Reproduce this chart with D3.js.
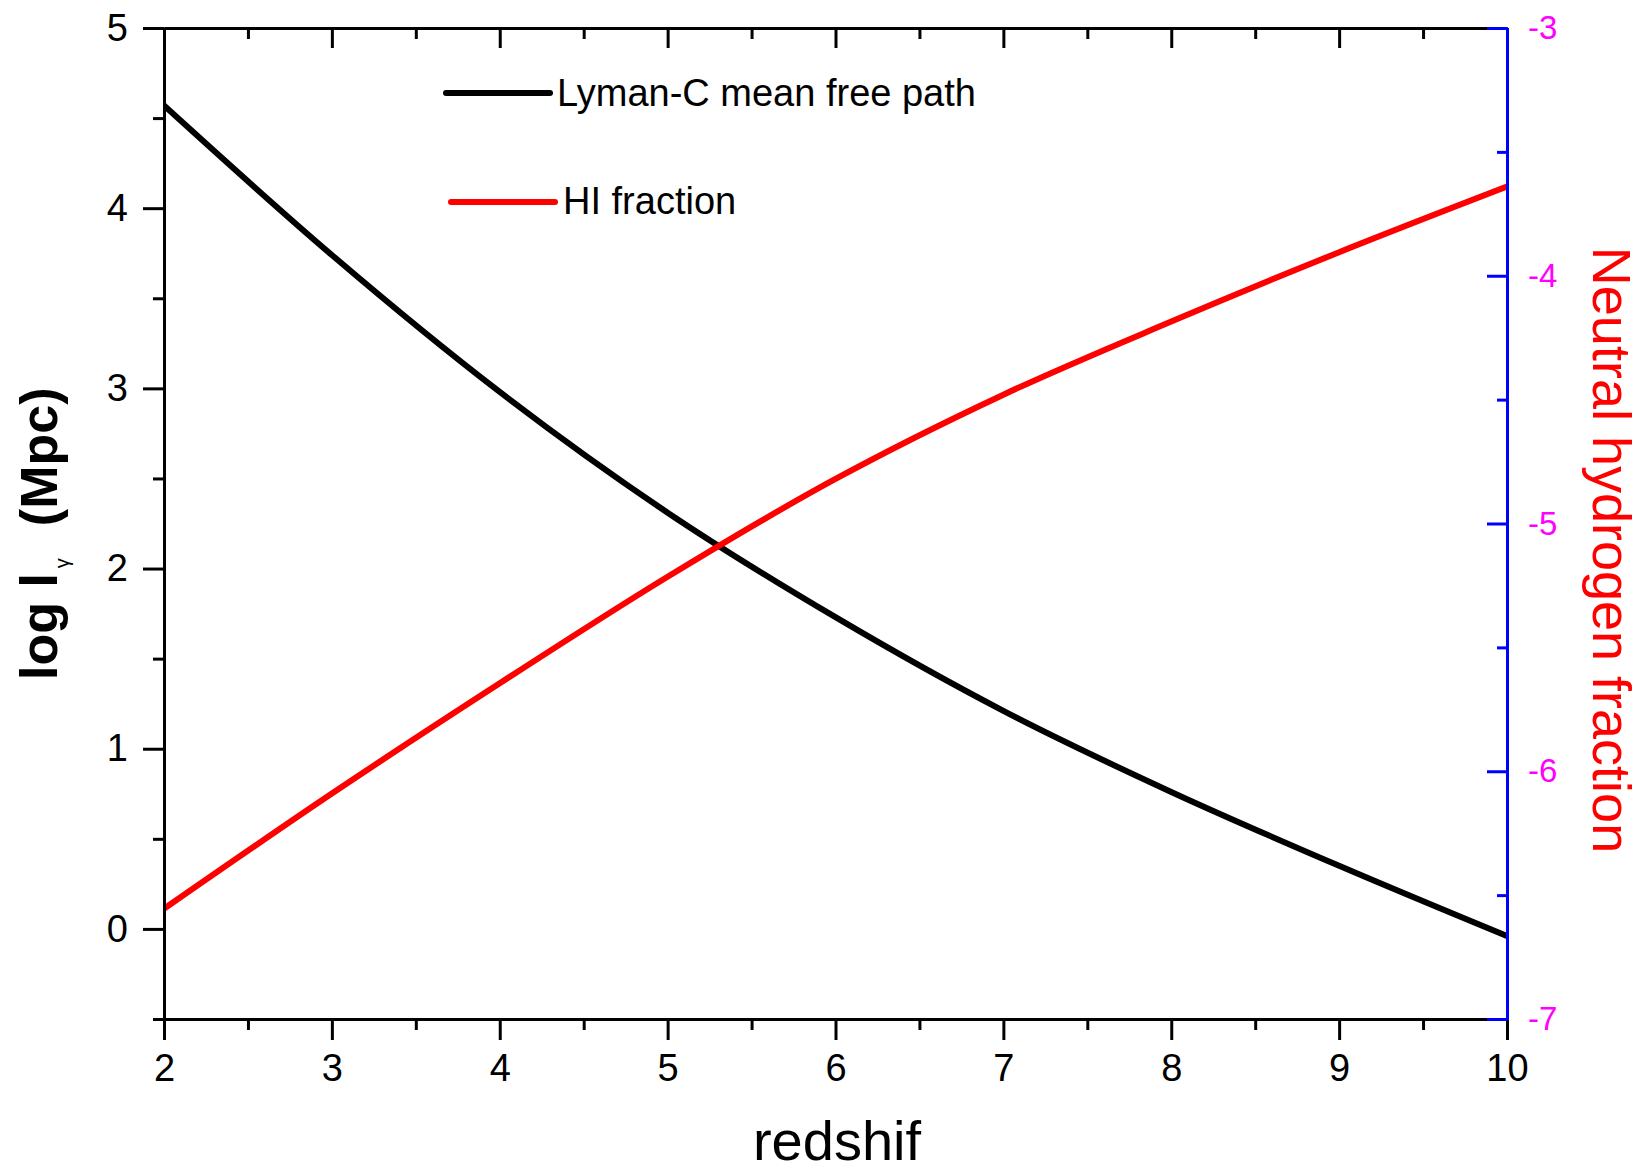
<!DOCTYPE html>
<html>
<head>
<meta charset="utf-8">
<script src="https://cdn.jsdelivr.net/npm/d3@7"></script>
<style>
  html, body { margin: 0; padding: 0; background: #fff; }
  svg { display: block; font-family: "Liberation Sans", Arial, sans-serif; }
</style>
</head>
<body>
<svg id="chart" width="1643" height="1175"></svg>
<script>
// ---- data ----
const redshift = [2, 3, 4, 5, 6, 7, 8, 9, 10];
const logMeanFreePath = [4.57, 3.74, 2.98, 2.31, 1.73, 1.21, 0.76, 0.35, -0.04];
const logHIFraction = [-6.555, -6.09, -5.645, -5.215, -4.82, -4.48, -4.185, -3.905, -3.64];

const xMajorTicks = [2, 3, 4, 5, 6, 7, 8, 9, 10];
const xMinorTicks = [2.5, 3.5, 4.5, 5.5, 6.5, 7.5, 8.5, 9.5];
const yLeftMajorTicks = [0, 1, 2, 3, 4, 5];
const yLeftMinorTicks = [-0.5, 0.5, 1.5, 2.5, 3.5, 4.5];
const yRightMajorTicks = [-7, -6, -5, -4, -3];
const yRightMinorTicks = [-6.5, -5.5, -4.5, -3.5];

const seriesNames = ["Lyman-C mean free path", "HI fraction"];
const seriesColors = ["#000000", "#ff0000"];

// ---- layout ----
const L = 164, R = 1507, T = 28, B = 1019;
const svg = d3.select("#chart");

const x = d3.scaleLinear().domain([2, 10]).range([L, R]);
const yL = d3.scaleLinear().domain([-0.5, 5]).range([B, T]);
const yR = d3.scaleLinear().domain([-7, -3]).range([B, T]);

function styleAxis(g, color, fontSize) {
  g.selectAll(".domain").attr("stroke", color).attr("stroke-width", 3);
  g.selectAll(".tick line").attr("stroke", color).attr("stroke-width", 3);
  g.selectAll(".tick text").attr("font-size", fontSize).attr("font-family", "Liberation Sans, Arial, sans-serif");
}

// data lines (clipped to plot)
svg.append("clipPath").attr("id", "plotclip")
  .append("rect").attr("x", L).attr("y", T).attr("width", R - L).attr("height", B - T);

const lineL = d3.line().x((d, i) => x(redshift[i])).y(d => yL(d)).curve(d3.curveMonotoneX);
const lineR = d3.line().x((d, i) => x(redshift[i])).y(d => yR(d)).curve(d3.curveMonotoneX);

const plot = svg.append("g").attr("clip-path", "url(#plotclip)");
plot.append("path").datum(logMeanFreePath).attr("d", lineL)
  .attr("fill", "none").attr("stroke", seriesColors[0]).attr("stroke-width", 6);
plot.append("path").datum(logHIFraction).attr("d", lineR)
  .attr("fill", "none").attr("stroke", seriesColors[1]).attr("stroke-width", 6);

// top axis (ticks inward, no labels)
const topMinor = svg.append("g").attr("transform", `translate(0,${T})`)
  .call(d3.axisBottom(x).tickValues(xMinorTicks).tickSize(11).tickSizeOuter(0).tickFormat(""));
styleAxis(topMinor, "#000", 0);
const topMajor = svg.append("g").attr("transform", `translate(0,${T})`)
  .call(d3.axisBottom(x).tickValues(xMajorTicks).tickSize(20).tickSizeOuter(0).tickFormat(""));
styleAxis(topMajor, "#000", 0);

// bottom axis
const botMinor = svg.append("g").attr("transform", `translate(0,${B})`)
  .call(d3.axisBottom(x).tickValues(xMinorTicks).tickSize(11).tickSizeOuter(0).tickFormat(""));
styleAxis(botMinor, "#000", 0);
const botMajor = svg.append("g").attr("transform", `translate(0,${B})`)
  .call(d3.axisBottom(x).tickValues(xMajorTicks).tickSize(21).tickSizeOuter(0).tickPadding(14).tickFormat(d3.format("d")));
styleAxis(botMajor, "#000", 38);
botMajor.selectAll(".tick text").attr("fill", "#000");

// left axis
const leftMinor = svg.append("g").attr("transform", `translate(${L},0)`)
  .call(d3.axisLeft(yL).tickValues(yLeftMinorTicks).tickSize(11).tickSizeOuter(0).tickFormat(""));
styleAxis(leftMinor, "#000", 0);
const leftMajor = svg.append("g").attr("transform", `translate(${L},0)`)
  .call(d3.axisLeft(yL).tickValues(yLeftMajorTicks).tickSize(21).tickSizeOuter(0).tickPadding(15).tickFormat(d3.format("d")));
styleAxis(leftMajor, "#000", 38);
leftMajor.selectAll(".tick text").attr("fill", "#000");

// right axis (blue, ticks inward, magenta labels)
const rightMinor = svg.append("g").attr("transform", `translate(${R},0)`)
  .call(d3.axisRight(yR).tickValues(yRightMinorTicks).tickSize(-10).tickSizeOuter(0).tickFormat(""));
styleAxis(rightMinor, "#0000ff", 0);
const rightMajor = svg.append("g").attr("transform", `translate(${R},0)`)
  .call(d3.axisRight(yR).tickValues(yRightMajorTicks).tickSize(-20).tickSizeOuter(0).tickPadding(21).tickFormat(d3.format("d")));
styleAxis(rightMajor, "#0000ff", 33);
rightMajor.selectAll(".tick text").attr("fill", "#ff00ff").text(d => String(d).replace("\u2212", "-"));

// axis titles
svg.append("text")
  .attr("x", 837).attr("y", 1160)
  .attr("text-anchor", "middle").attr("font-size", 56).attr("fill", "#000")
  .text("redshif");

const lt = svg.append("text")
  .attr("transform", "translate(57,680) rotate(-90)")
  .attr("text-anchor", "start").attr("font-size", 52).attr("font-weight", "bold").attr("fill", "#000");
lt.append("tspan").text("log l");
lt.append("tspan").attr("font-size", 20).attr("font-weight", "normal").attr("dy", 12).attr("dx", 5).text("\u03b3");
lt.append("tspan").attr("dy", -12).attr("dx", 32).text("(Mpc)");

svg.append("text")
  .attr("transform", "translate(1593,550) rotate(90)")
  .attr("text-anchor", "middle").attr("font-size", 54).attr("fill", "#ff0000")
  .text("Neutral hydrogen fraction");

// legend
const legendRows = [
  { x1: 446, x2: 550, y: 93, tx: 557, ty: 106 },
  { x1: 451, x2: 555, y: 202, tx: 563, ty: 214 }
];
const lg = svg.append("g");
legendRows.forEach((r, i) => {
  lg.append("line").attr("x1", r.x1).attr("x2", r.x2).attr("y1", r.y).attr("y2", r.y)
    .attr("stroke", seriesColors[i]).attr("stroke-width", 6).attr("stroke-linecap", "round");
  lg.append("text").attr("x", r.tx).attr("y", r.ty).attr("font-size", 38).attr("fill", "#000")
    .text(seriesNames[i]);
});
</script>
</body>
</html>
